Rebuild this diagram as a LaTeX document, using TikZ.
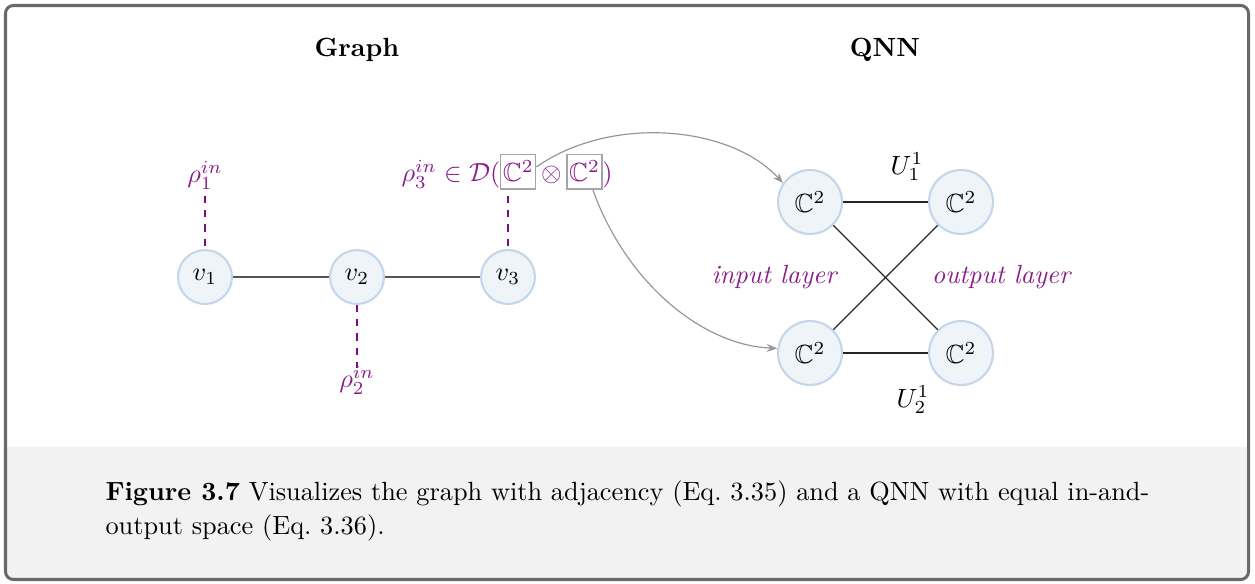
\documentclass[tikz,border=0pt]{standalone}
\usepackage{amsmath,amssymb}
\usetikzlibrary{arrows.meta}
\definecolor{mypurple}{RGB}{138,28,138}
\definecolor{dashpurple}{RGB}{128,10,128}
\definecolor{nodefill}{RGB}{239,244,249}
\definecolor{nodeborder}{RGB}{196,214,233}
\definecolor{framegray}{RGB}{105,105,105}
\definecolor{capfill}{RGB}{242,242,242}
\definecolor{boxgray}{RGB}{165,165,165}
\definecolor{arrgray}{RGB}{150,150,150}
\definecolor{edgegray}{RGB}{85,85,85}
\tikzset{
  gnode/.style={circle,draw=nodeborder,fill=nodefill,line width=0.8pt,minimum size=20.5pt,inner sep=0pt},
  qnode/.style={circle,draw=nodeborder,fill=nodefill,line width=0.8pt,minimum size=24.3pt,inner sep=0pt},
  lab/.style={text=mypurple},
  dashlink/.style={draw=dashpurple,line width=0.95pt,dash pattern=on 2.7pt off 2.7pt},
  gedge/.style={draw=edgegray,line width=0.45pt},
  qedge/.style={draw=black!85,line width=0.45pt},
  boxC/.style={draw=boxgray,line width=0.5pt,inner xsep=0.8pt,inner ysep=2pt,text height=8.4pt,text depth=0.7pt,text=mypurple},
  arr/.style={draw=arrgray,line width=0.45pt,-{Stealth[length=4pt,width=3pt]}},
  titl/.style={font=\bfseries},
}
\begin{document}
\begin{tikzpicture}[x=0.38pt,y=-0.38pt]
\useasboundingbox (0,0) rectangle (1255,584);
% caption band and frame
\fill[capfill,rounded corners=2pt] (6,447) rectangle (1248,579);
\fill[capfill] (6,447) rectangle (1248,500);
\draw[framegray,line width=1.15pt,rounded corners=3pt] (5.5,5.5) rectangle (1248.5,579.5);
% titles
\node[titl] (tg) at (357,50) {Graph};
\node[titl] (tq) at (885,50) {QNN};
% graph
\node[gnode] (v1) at (205,277) {$v_1$};
\node[gnode] (v2) at (357,277) {$v_2$};
\node[gnode] (v3) at (508,277) {$v_3$};
\draw[gedge] (v1) -- (v2);
\draw[gedge] (v2) -- (v3);
\node[lab] (r1) at (205,175) {$\rho_1^{in}$};
\node[lab] (r2) at (357,380) {$\rho_2^{in}$};
\coordinate (r1e) at (205,196);
\coordinate (r2e) at (357,368);
\coordinate (r3e) at (508,196);
\draw[dashlink] (r1e) -- (v1.north);
\draw[dashlink] (v2.south) -- (r2e);
\draw[dashlink] (r3e) -- (v3.north);
% rho3 label
\node[lab,anchor=base west,inner sep=0pt] (r3) at (401,182) {$\rho_3^{in}\in\mathcal{D}($};
\node[boxC,anchor=base west] (b1) at ([xshift=-0.3pt]r3.base east) {$\mathbb{C}^2$};
\node[lab,anchor=base west,inner sep=0pt] (ot) at ([xshift=1.6pt]b1.base east) {$\otimes$};
\node[boxC,anchor=base west] (b2) at ([xshift=1.6pt]ot.base east) {$\mathbb{C}^2$};
\node[lab,anchor=base west,inner sep=0pt] (cl) at ([xshift=-0.3pt]b2.base east) {$)$};
% QNN
\node[qnode] (q1) at (810,202) {$\mathbb{C}^2$};
\node[qnode] (q2) at (961,202) {$\mathbb{C}^2$};
\node[qnode] (q3) at (810,353) {$\mathbb{C}^2$};
\node[qnode] (q4) at (961,353) {$\mathbb{C}^2$};
\draw[qedge] (q1) -- (q2);
\draw[qedge] (q3) -- (q4);
\draw[qedge] (q1) -- (q4);
\draw[qedge] (q3) -- (q2);
\node (u1) at (907,167) {$U_1^1$};
\node (u2) at (913,400) {$U_2^1$};
\node[lab,font=\itshape] (il) at (774,277) {input layer};
\node[lab,font=\itshape] (ol) at (1001,277) {output layer};
% arrows
\draw[arr] (b1.15) .. controls (610,115) and (730,125) .. (q1.145);
\draw[arr] (b2.-65) .. controls (625,280) and (700,345) .. (q3.172);
% caption
\node[anchor=base west,align=left,inner sep=0pt] (cap) at (105,534) {\textbf{Figure 3.7} Visualizes the graph with adjacency (Eq.~3.35) and a QNN with equal in-and-\\[0.6pt]output space (Eq.~3.36).};
\end{tikzpicture}
\end{document}
